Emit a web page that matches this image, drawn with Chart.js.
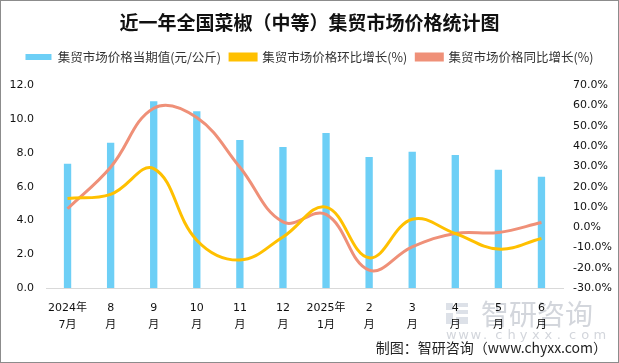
<!DOCTYPE html>
<html><head><meta charset="utf-8">
<script src="https://cdn.jsdelivr.net/npm/chart.js@4.4.1/dist/chart.umd.min.js"></script>
<style>html,body{margin:0;padding:0;background:#fff}#wrap{width:619px;height:363px;position:relative}</style>
</head><body><div id="wrap"><canvas id="c" width="619" height="363"></canvas></div>
<script>
const categories = [["2024年","7月"],["8","月"],["9","月"],["10","月"],["11","月"],["12","月"],["2025年","1月"],["2","月"],["3","月"],["4","月"],["5","月"],["6","月"]];
const priceValues = [7.35, 8.6, 11.05, 10.47, 8.76, 8.35, 9.18, 7.76, 8.06, 7.88, 7.0, 6.59];
const momGrowth = [14.2, 16.2, 28.9, -6.4, -16.2, -4.8, 9.9, -15.1, 3.9, -3.1, -10.8, -5.6];
const yoyGrowth = [9.1, 29.6, 58.7, 54.1, 29.6, 2.6, 6.3, -21.2, -9.7, -3.1, -2.6, 2.3];
const seriesNames = ["集贸市场价格当期值(元/公斤)", "集贸市场价格环比增长(%)", "集贸市场价格同比增长(%)"];
const titleText = "近一年全国菜椒（中等）集贸市场价格统计图";
const creditText = "制图：智研咨询（www.chyxx.com）";

const FONT = "'DejaVu Sans', 'Noto Sans CJK SC', sans-serif";
const CJK = "'Noto Sans CJK SC', sans-serif";

const legendGap = {
  id: 'legendGap',
  beforeUpdate(chart) {
    const lg = chart.legend;
    if (lg && !lg._gapPatched) {
      const f = lg.fit;
      lg.fit = function () { f.call(this); this.height += 12; };
      lg._gapPatched = true;
    }
  }
};

const extras = {
  id: 'extras',
  beforeDraw(chart) {
    const ctx = chart.ctx;
    ctx.save();
    ctx.fillStyle = '#fff';
    ctx.fillRect(0, 0, chart.width, chart.height);
    // watermark
    ctx.fillStyle = '#dde1e8';
    ctx.fillRect(446, 303, 7, 7);
    ctx.fillRect(446, 313, 7, 11);
    ctx.fillRect(456, 303, 12, 4);
    ctx.fillRect(456, 310, 12, 4);
    ctx.fillRect(456, 317, 12, 7);
    ctx.fillStyle = '#d3d6dc';
    ctx.font = "28px " + CJK;
    ctx.textBaseline = 'middle';
    ctx.textAlign = 'left';
    ctx.fillText('智研咨询', 481, 314);
    ctx.font = "13px " + FONT;
    const w = 'www.chyxx.com';
    for (let i = 0; i < w.length; i++) ctx.fillText(w[i], 446 + i * 12.3, 336);
    ctx.restore();
  },
  afterDraw(chart) {
    const ctx = chart.ctx;
    ctx.save();
    ctx.fillStyle = '#222';
    ctx.font = "14px " + CJK;
    ctx.textAlign = 'right';
    ctx.textBaseline = 'middle';
    ctx.fillText(creditText, 607, 348);
    ctx.strokeStyle = '#8c8c8c';
    ctx.lineWidth = 1;
    ctx.strokeRect(0.5, 0.5, chart.width - 1, chart.height - 1);
    ctx.restore();
  }
};

new Chart(document.getElementById('c'), {
  data: {
    labels: categories,
    datasets: [
      { type: 'bar', label: seriesNames[0], data: priceValues, yAxisID: 'y',
        backgroundColor: '#6dcff6', borderWidth: 0, barPercentage: 0.17, categoryPercentage: 1, order: 3 },
      { type: 'line', label: seriesNames[1], data: momGrowth, yAxisID: 'y1',
        borderColor: '#ffc000', backgroundColor: '#ffc000', borderWidth: 3, pointRadius: 0, tension: 0.4, order: 1 },
      { type: 'line', label: seriesNames[2], data: yoyGrowth, yAxisID: 'y1',
        borderColor: '#ef9078', backgroundColor: '#ef9078', borderWidth: 3, pointRadius: 0, tension: 0.4, order: 2 }
    ]
  },
  options: {
    responsive: false,
    animation: false,
    layout: { padding: { top: 11, left: 0, right: 0, bottom: 0 } },
    plugins: {
      tooltip: { enabled: false },
      title: { display: true, text: titleText, color: '#111',
        font: { family: CJK, size: 19, weight: 'bold' }, padding: { top: 0, bottom: 8 } },
      legend: { display: true, align: 'center',
        labels: { boxWidth: 26, boxHeight: 6, color: '#333', padding: 9,
          sort: (a, b) => a.datasetIndex - b.datasetIndex,
          font: { family: CJK, size: 12.5 } } }
    },
    scales: {
      x: {
        offset: true,
        grid: { display: false, drawTicks: false },
        border: { color: '#d9d9d9', width: 1 },
        ticks: { color: '#111', font: { family: FONT, size: 11, lineHeight: 1.55 }, padding: 12, maxRotation: 0, autoSkip: false },
        afterFit(s) { s.height = 75; }
      },
      y: {
        position: 'left', min: 0, max: 12,
        grid: { display: false, drawTicks: false },
        border: { display: false },
        ticks: { stepSize: 2, color: '#111', font: { family: FONT, size: 11 }, padding: 12,
          callback: v => v.toFixed(1) },
        afterFit(s) { s.width = 46; }
      },
      y1: {
        position: 'right', min: -30, max: 70,
        grid: { display: false, drawTicks: false },
        border: { display: false },
        ticks: { stepSize: 10, color: '#111', font: { family: FONT, size: 11 }, padding: 10,
          callback: v => v.toFixed(1) + '%' },
        afterFit(s) { s.width = 56; }
      }
    }
  },
  plugins: [legendGap, extras]
});
</script></body></html>
